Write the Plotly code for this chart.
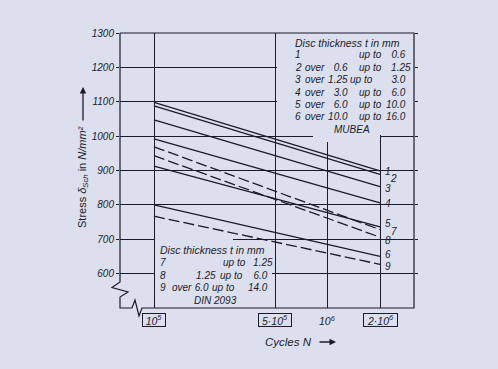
import math
import plotly.graph_objects as go

# ---------------- data ----------------
cycles = [1e5, 2e6]
curve_ids = ["1", "2", "3", "4", "5", "6", "7", "8", "9"]
stress_at_1e5 = [1098, 1088, 1047, 992, 913, 800, 969, 943, 767]
stress_at_2e6 = [899, 889, 853, 806, 736, 650, 728, 706, 627]
curve_dashed = [False, False, False, False, False, False, True, True, True]

y_tick_vals = [600, 700, 800, 900, 1000, 1100, 1200, 1300]
x_tick_vals = [1e5, 5e5, 1e6, 2e6]
x_tick_text = ["10<sup>5</sup>", "5·10<sup>5</sup>", "10<sup>6</sup>", "2·10<sup>6</sup>"]
x_tick_boxed = [True, True, False, True]

mubea_title = "Disc thickness t in mm"
mubea_num = ["1", "2", "3", "4", "5", "6"]
mubea_over = ["", "over", "over", "over", "over", "over"]
mubea_from = ["", "0.6", "1.25", "3.0", "6.0", "10.0"]
mubea_to = ["0.6", "1.25", "3.0", "6.0", "10.0", "16.0"]
mubea_source = "MUBEA"

din_title = "Disc thickness t in mm"
din_num = ["7", "8", "9"]
din_over = ["", "", "over"]
din_from = ["", "1.25", "6.0"]
din_to = ["1.25", "6.0", "14.0"]
din_source = "DIN 2093"

# ---------------- style ----------------
W, H = 498, 369
L, R, T, B = 120, 414, 33, 308
BG = "#dcdfee"
INK = "#1b1c2b"
FONT = "Liberation Sans, Arial, sans-serif"
X_RANGE = [4.80427, 6.49676]
Y_RANGE = [500, 1300]
FS = "\u2007"  # figure space for decimal alignment
TXT = 10  # legend row font size

label_shift = {  # (xshift, yshift) in px for curve end labels
    "1": (4, -1), "2": (9, -4), "3": (4, -2), "4": (4, -1), "5": (4, 3),
    "6": (4, 2), "7": (10, -2), "8": (4, -3), "9": (4, -2),
}
tick_box_width = [20, 30, None, 31]

mubea_rows_y = [54.5, 67, 79.5, 92, 104.5, 117]
mubea_upto_x = [358, 358, 348.5, 358, 358, 358]
din_rows_y = [262.5, 275, 287.5]
din_from_right = [215, 215, 208]
din_upto_x = [222, 219, 211]


def px(x):
    return (x - L) / (R - L)


def py(y):
    return (B - y) / (B - T)


fig = go.Figure()

for cid, y0, y1, dsh in zip(curve_ids, stress_at_1e5, stress_at_2e6, curve_dashed):
    fig.add_trace(go.Scatter(
        x=cycles, y=[y0, y1], mode="lines", name=cid, showlegend=False,
        line=dict(color=INK, width=1.3, dash="11px,4px" if dsh else "solid"),
        hoverinfo="skip",
    ))

annotations = []

# curve labels at 2e6
for cid, y1 in zip(curve_ids, stress_at_2e6):
    xs, ys = label_shift[cid]
    annotations.append(dict(
        x=math.log10(cycles[-1]), y=y1, xref="x", yref="y", text=cid,
        showarrow=False, xanchor="left", yanchor="middle", xshift=xs, yshift=ys,
        borderpad=0, font=dict(family=FONT, size=10, color=INK, style="italic"),
    ))

# x tick labels (some boxed)
for v, t, boxed, bw in zip(x_tick_vals, x_tick_text, x_tick_boxed, tick_box_width):
    a = dict(
        x=math.log10(v), y=py(320), xref="x", yref="paper", text=t,
        showarrow=False, xanchor="center", yanchor="middle",
        font=dict(family=FONT, size=10.5, color=INK, style="italic"),
    )
    if boxed:
        a.update(bordercolor=INK, borderwidth=1, borderpad=1, width=bw, height=10)
    annotations.append(a)


def text_left(x, y, text, size=TXT):
    return dict(
        x=px(x), y=py(y), xref="paper", yref="paper", text=text, showarrow=False,
        xanchor="left", yanchor="middle", borderpad=0,
        font=dict(family=FONT, size=size, color=INK, style="italic"),
    )


def text_center(x, y, text, size=TXT):
    d = text_left(x, y, text, size)
    d["xanchor"] = "center"
    return d


def text_right(xr, y, text, box=30, size=TXT):
    # right-aligned text inside a fixed-width box whose right edge is xr
    d = text_left(xr - box, y, text, size)
    d.update(width=box, align="right")
    return d


def pad_dec(s):
    return s + FS if len(s.split(".")[-1]) == 1 else s


# MUBEA legend
annotations.append(text_left(294, 42.5, mubea_title, size=10.5))
for yy, n, o, f, t, ux in zip(mubea_rows_y, mubea_num, mubea_over, mubea_from,
                              mubea_to, mubea_upto_x):
    annotations.append(text_left(294, yy, n))
    if o:
        annotations.append(text_left(304, yy, o))
    if f:
        annotations.append(text_right(347, yy, f, box=24))
    annotations.append(text_left(ux, yy, "up to"))
    annotations.append(text_right(410, yy, pad_dec(t), box=28))
annotations.append(text_center(352, 129.5, mubea_source))

# DIN legend
annotations.append(text_left(159, 250, din_title, size=10.5))
for yy, n, o, f, t, fr, ux in zip(din_rows_y, din_num, din_over, din_from, din_to,
                                  din_from_right, din_upto_x):
    annotations.append(text_left(159, yy, n))
    if o:
        annotations.append(text_left(171, yy, o))
    if f:
        annotations.append(text_right(fr, yy, f, box=24))
    annotations.append(text_left(ux, yy, "up to"))
    annotations.append(text_right(272, yy, pad_dec(t), box=28))
annotations.append(text_center(215, 300, din_source))

# axis titles
annotations.append(dict(
    x=px(83), y=py(177), xref="paper", yref="paper", textangle=-90, showarrow=False,
    text="Stress <i>δ</i><sub><i>Sch</i></sub> in <i>N/mm²</i>",
    font=dict(family=FONT, size=11, color=INK), xanchor="center", yanchor="middle",
))
annotations.append(dict(
    x=px(83), y=py(87), xref="paper", yref="paper", ax=0, ay=35,
    axref="pixel", ayref="pixel", text="", showarrow=True, arrowhead=2,
    arrowsize=1, arrowwidth=1.3, arrowcolor=INK,
))
annotations.append(dict(
    x=px(288), y=py(342), xref="paper", yref="paper", text="Cycles N",
    showarrow=False, xanchor="center", yanchor="middle",
    font=dict(family=FONT, size=11.5, color=INK, style="italic"),
))
annotations.append(dict(
    x=px(336), y=py(342), xref="paper", yref="paper", ax=-18, ay=0,
    axref="pixel", ayref="pixel", text="", showarrow=True, arrowhead=2,
    arrowsize=1, arrowwidth=1.3, arrowcolor=INK,
))

shapes = []


def rect(x0, y0, x1, y1):
    return dict(type="rect", xref="paper", yref="paper", x0=px(x0), x1=px(x1),
                y0=py(y1), y1=py(y0), fillcolor=BG, line=dict(width=0), layer="above")


# masks hiding grid lines behind the legend boxes (they do not touch the curves)
shapes += [rect(277, 33, 414, 135), rect(313, 134, 380, 142),
           rect(155, 237, 233, 307), rect(232, 245, 272, 307)]

# frame with axis-break zigzags
pts = [(120, 33), (120, 282), (112, 287.5), (128, 292), (120, 297), (120, 308),
       (132, 308), (135, 300), (139, 316), (142, 308), (414, 308), (414, 33), (120, 33)]
path = "M " + " L ".join(f"{px(x):.5f},{py(y):.5f}" for x, y in pts)
shapes.append(dict(type="path", xref="paper", yref="paper", path=path,
                   line=dict(color=INK, width=1.2), layer="above"))

fig.update_layout(
    width=W, height=H, margin=dict(l=L, r=W - R, t=T, b=H - B),
    paper_bgcolor=BG, plot_bgcolor=BG, showlegend=False,
    annotations=annotations, shapes=shapes,
    xaxis=dict(type="log", range=X_RANGE, tickvals=x_tick_vals, showticklabels=False,
               showgrid=True, gridcolor=INK, gridwidth=1, zeroline=False,
               showline=False, ticks=""),
    yaxis=dict(range=Y_RANGE, tickvals=y_tick_vals, ticks="outside", ticklen=3,
               tickcolor=INK, tickwidth=1, showgrid=True, gridcolor=INK, gridwidth=1,
               zeroline=False, showline=False, mirror="ticks",
               tickfont=dict(family=FONT, size=10, color=INK, style="italic")),
)

fig.write_html(
    "out.html",
    config={"displayModeBar": False, "staticPlot": True},
    post_script=f"document.body.style.margin='0';document.body.style.background='{BG}';",
)
